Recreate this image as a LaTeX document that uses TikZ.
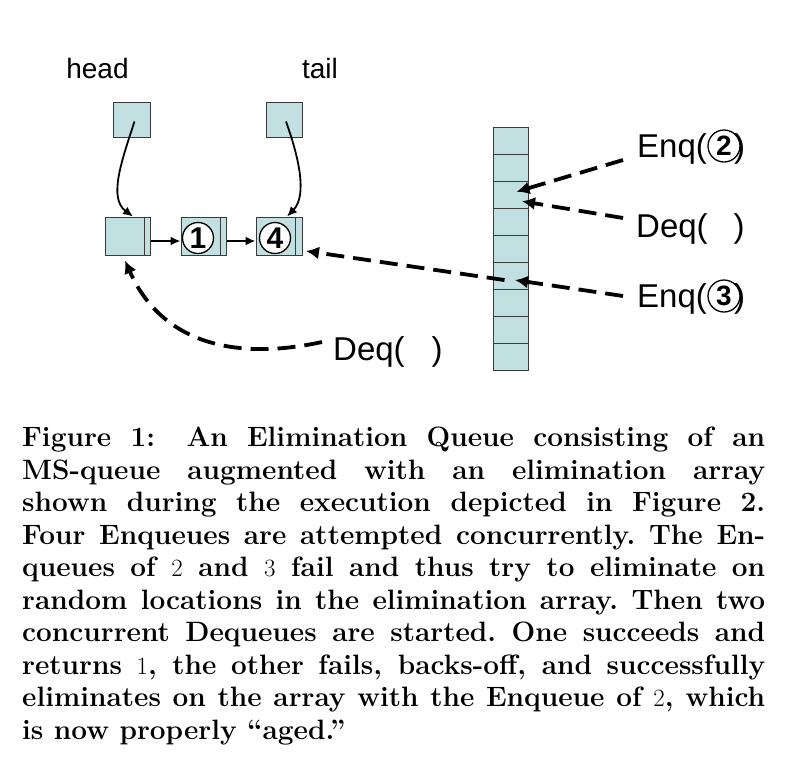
\documentclass[tikz,border=0pt]{standalone}
\usepackage{fontspec}
\newfontfamily\arial{Liberation Sans}
\usetikzlibrary{arrows.meta}
\definecolor{boxfill}{HTML}{C2DFE1}
\definecolor{boxline}{HTML}{3A3A3A}
\newcommand\jl[1]{\makebox[743pt][s]{#1}}
\begin{document}
\begin{tikzpicture}[x=1pt,y=-1pt,
  cell/.style={draw=boxline, fill=boxfill, line width=1pt, inner sep=0pt},
  divider/.style={draw=boxline, line width=0.8pt},
  toplbl/.style={font=\arial\fontsize{28}{32}\selectfont, inner sep=0pt, anchor=base},
  lbl/.style={font=\arial\fontsize{33}{38}\selectfont, inner sep=0pt, anchor=base west},
  ptr/.style={line width=1.8pt, -{Latex[length=10pt,width=9pt]}},
  dsh/.style={line width=3.8pt, dash pattern=on 18pt off 9pt, -{Latex[length=13pt,width=13pt]}},
  num/.style={circle, draw, fill=white, line width=1.3pt, inner sep=0pt, minimum size=31pt, font=\arial\bfseries\fontsize{30}{30}\selectfont},
  numl/.style={circle, draw, line width=1.3pt, inner sep=0pt, minimum size=32pt, font=\arial\bfseries\fontsize{28}{28}\selectfont}
]
\useasboundingbox[fill=white] (0,0) rectangle (790,780);

% head / tail pointers
\node[toplbl] (head) at (97.5,78) {head};
\node[toplbl] (tail) at (320,78) {tail};
\node[cell, minimum width=37pt, minimum height=35pt] (hbox) at (131.5,119.5) {};
\node[cell, minimum width=36pt, minimum height=35pt] (tbox) at (284,119.5) {};

% list nodes
\node[cell, minimum width=45pt, minimum height=38pt] (n0) at (127.5,236) {};
\node[cell, minimum width=45pt, minimum height=38pt] (n1) at (203.5,236) {};
\node[cell, minimum width=46pt, minimum height=38pt] (n4) at (279,236) {};
\draw[divider] ([xshift=-6pt]n0.north east) -- ([xshift=-6pt]n0.south east);
\draw[divider] ([xshift=-6pt]n1.north east) -- ([xshift=-6pt]n1.south east);
\draw[divider] ([xshift=-7pt]n4.north east) -- ([xshift=-7pt]n4.south east);
\node[num] (c1) at (198,238) {1};
\node[num] (c4) at (275,238) {4};

\draw[ptr] ([yshift=-5pt]n0.east) -- ([yshift=-5pt]n1.west);
\draw[ptr] ([yshift=-5pt]n1.east) -- ([yshift=-5pt]n4.west);
\draw[ptr] ([shift={(3pt,-2pt)}]hbox.center) .. controls (122,160) and (108,198) .. ([xshift=5.5pt]n0.north);
\draw[ptr] ([shift={(2pt,-2pt)}]tbox.center) .. controls (298,155) and (308,195) .. ([xshift=8pt]n4.north);

% elimination array
\foreach \i in {1,...,9}
  \node[cell, minimum width=35pt, minimum height=27.1pt] (a\i) at (510.5,{127+27.1*(\i-0.5)}) {};

% labels
\node[lbl] (enq2) at (637,157) {Enq(};
\node[numl] (c2) at (724,146) {2};
\node[lbl] (enq2r) at (734,157) {)};
\node[lbl] (deq1) at (636,237) {Deq(\hspace{26pt})};
\node[lbl] (enq3) at (637,307) {Enq(};
\node[numl] (c3) at (724,296) {3};
\node[lbl] (enq3r) at (734,307) {)};
\node[lbl] (deq2) at (333,360) {Deq(\hspace{27pt})};

% dashed arrows
\coordinate (s2) at (623,160);
\coordinate (sd) at (623,218);
\coordinate (s3) at (623,296);
\coordinate (sb) at (322,342);
\draw[dsh] (s2) -- ([shift={(6pt,3pt)}]a3.center);
\draw[dsh] (sd) -- ([shift={(11.5pt,-6.5pt)}]a3.center);
\draw[dsh] (s3) -- ([shift={(4.5pt,-4pt)}]a6.center);
\draw[dsh] ([shift={(-6pt,-4pt)}]a6.center) -- ([shift={(3.5pt,-15pt)}]n4.east);
\draw[dsh] (sb) .. controls (230,362) and (160,340) .. ([shift={(-2.5pt,-5pt)}]n0.south);

% caption
\node[anchor=north west, inner sep=0pt, align=left,
      font=\bfseries\fontsize{28}{32.5}\selectfont] (cap) at (22,427) {%
\jl{Figure 1: An Elimination Queue consisting of an}\\
\jl{MS-queue augmented with an elimination array}\\
\jl{shown during the execution depicted in Figure 2.}\\
\jl{Four Enqueues are attempted concurrently.\ The En-}\\
\jl{queues of $2$ and $3$ fail and thus try to eliminate on}\\
\jl{random locations in the elimination array.\ Then two}\\
\jl{concurrent Dequeues are started.\ One succeeds and}\\
\jl{returns $1$, the other fails, backs-off, and successfully}\\
\jl{eliminates on the array with the Enqueue of $2$, which}\\
is now properly ``aged.''};
\end{tikzpicture}
\end{document}
